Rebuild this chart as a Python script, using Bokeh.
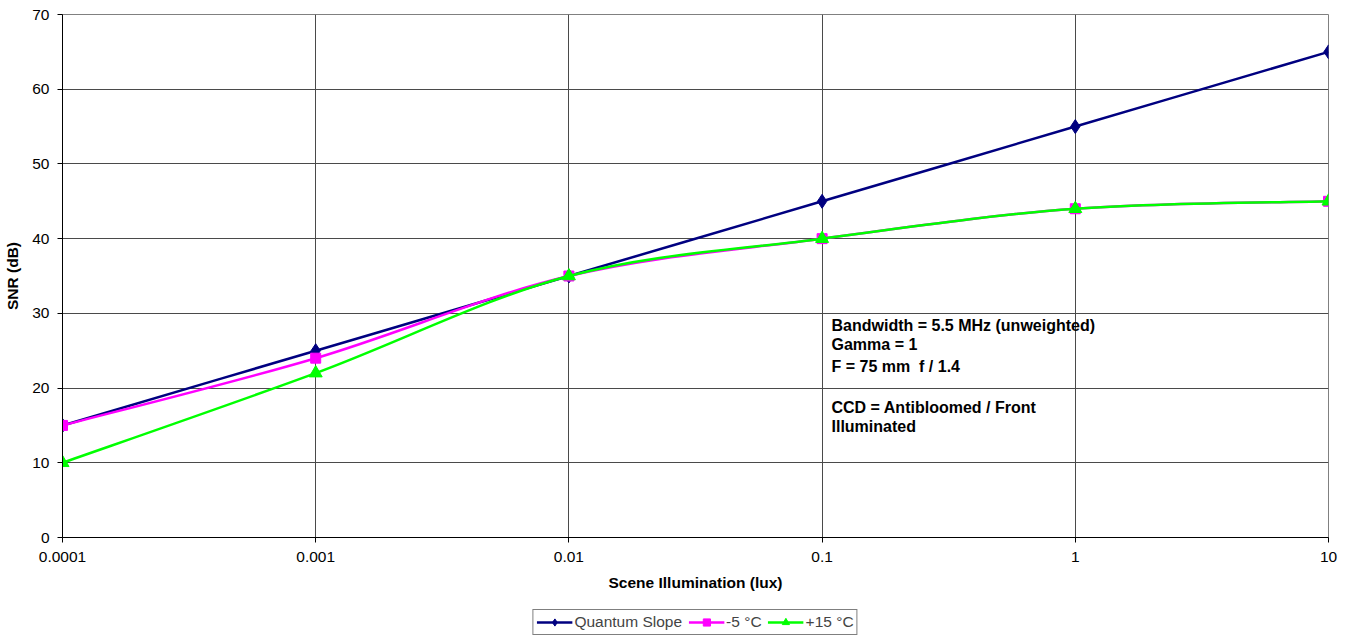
import numpy as np
from bokeh.plotting import figure
from bokeh.layouts import column
from bokeh.models import (FixedTicker, Legend, LegendItem, Label, ColumnDataSource)
from bokeh.embed import file_html
from bokeh.resources import INLINE

# ---- data ----
lux = [0.0001, 0.001, 0.01, 0.1, 1, 10]
x_tick_labels = ["0.0001", "0.001", "0.01", "0.1", "1", "10"]
y_ticks = [0, 10, 20, 30, 40, 50, 60, 70]
quantum_slope = [15, 25, 35, 45, 55, 65]
minus5 = [15, 24, 35, 40, 44, 45]
plus15 = [10, 22, 35, 40, 44, 45]
series_names = ["Quantum Slope", "-5 \u00b0C", "+15 \u00b0C"]
notes = ["Bandwidth = 5.5 MHz (unweighted)", "Gamma = 1", "F = 75 mm \u00a0f / 1.4",
         "CCD = Antibloomed / Front", "Illuminated"]
note_rows = [325, 344, 366, 407, 426]   # vertical centres (page px)

FONT = "Liberation Sans"
FS = "15.5px"
W = 1348
LEFT, RIGHT = 62, 20

p = figure(width=W, height=600, x_axis_type="log", y_range=(0, 70),
           x_range=(0.0001, 10), output_backend="svg", toolbar_location=None,
           min_border_left=LEFT, min_border_right=RIGHT, min_border_top=14,
           min_border_bottom=63)
p.outline_line_color = "#808080"
p.background_fill_color = "white"
p.border_fill_color = "white"

# axes
p.xaxis.ticker = FixedTicker(ticks=lux)
p.xaxis.major_label_overrides = {v: s for v, s in zip(lux, x_tick_labels)}
p.yaxis.ticker = FixedTicker(ticks=y_ticks)
for ax in (p.xaxis[0], p.yaxis[0]):
    ax.axis_line_color = "black"
    ax.major_tick_line_color = "black"
    ax.minor_tick_line_color = None
    ax.major_tick_out = 5
    ax.major_tick_in = 0
    ax.major_label_text_font = FONT
    ax.major_label_text_font_size = FS
    ax.major_label_text_color = "black"
    ax.axis_label_text_font = FONT
    ax.axis_label_text_font_size = FS
    ax.axis_label_text_font_style = "bold"
    ax.axis_label_text_color = "black"
p.xaxis.axis_label = "Scene Illumination (lux)"
p.yaxis.axis_label = "SNR (dB)"
p.xaxis.major_label_standoff = 9
p.xaxis.axis_label_standoff = 9
p.yaxis.major_label_standoff = 8
p.yaxis.axis_label_standoff = 8

p.xgrid.grid_line_color = "#4a4a4a"
p.ygrid.grid_line_color = "#4a4a4a"
p.xgrid.minor_grid_line_color = None


def smooth_segments(xs, ys):
    u = np.log10(np.array(xs, dtype=float))
    v = np.array(ys, dtype=float)
    n = len(u)
    x0, y0, x1, y1, cx0, cy0, cx1, cy1 = ([] for _ in range(8))
    for i in range(n - 1):
        im1 = max(i - 1, 0)
        ip2 = min(i + 2, n - 1)
        c0u = u[i] + (u[i + 1] - u[im1]) / 6
        c0v = v[i] + (v[i + 1] - v[im1]) / 6
        c1u = u[i + 1] - (u[ip2] - u[i]) / 6
        c1v = v[i + 1] - (v[ip2] - v[i]) / 6
        x0.append(10 ** u[i]); y0.append(v[i])
        x1.append(10 ** u[i + 1]); y1.append(v[i + 1])
        cx0.append(10 ** c0u); cy0.append(c0v)
        cx1.append(10 ** c1u); cy1.append(c1v)
    return dict(x0=x0, y0=y0, x1=x1, y1=y1, cx0=cx0, cy0=cy0, cx1=cx1, cy1=cy1)


styles = [
    (quantum_slope, "#000080", "diamond", 14),
    (minus5, "#FF00FF", "square", 10),
    (plus15, "#00FF00", "triangle", 13),
]

# legend strip (a second figure under the chart; its renderers lie outside its view)
p2 = figure(width=W, height=36, x_axis_type="log", x_range=(0.0001, 10),
            y_range=(-200, -100), output_backend="svg", toolbar_location=None,
            min_border_left=LEFT, min_border_right=RIGHT, min_border_top=0,
            min_border_bottom=0, x_axis_location=None, y_axis_location=None)
p2.grid.visible = False
p2.outline_line_color = None
p2.border_fill_color = "white"

items = []
for (vals, color, marker, size), name in zip(styles, series_names):
    src = ColumnDataSource(smooth_segments(lux, vals))
    p.bezier(x0="x0", y0="y0", x1="x1", y1="y1", cx0="cx0", cy0="cy0",
             cx1="cx1", cy1="cy1", source=src, line_color=color, line_width=2.5)
    p.scatter(lux, vals, marker=marker, size=size, fill_color=color, line_color=color)
    l2 = p2.line(lux, vals, line_color=color, line_width=2.5)
    m2 = p2.scatter(lux, vals, marker=marker, size=size, fill_color=color,
                    line_color=color)
    items.append(LegendItem(label=name, renderers=[l2, m2]))

legend = Legend(items=items, orientation="horizontal", location="bottom_center",
                border_line_color="black", border_line_width=1,
                background_fill_color="white", background_fill_alpha=1,
                label_text_font=FONT, label_text_font_size=FS,
                glyph_width=36, glyph_height=18, label_standoff=2, spacing=6,
                padding=3, margin=1, label_height=16)
p2.add_layout(legend, "center")

# annotation text
for t, row in zip(notes, note_rows):
    p.add_layout(Label(x=831 - 62, y=537 - row, x_units="screen", y_units="screen",
                       text=t, text_font=FONT, text_font_size="16px",
                       text_font_style="bold", text_color="black",
                       text_baseline="middle", text_align="left"))

layout = column(p, p2, spacing=0)
open("out.html", "w").write(file_html(layout, INLINE))
